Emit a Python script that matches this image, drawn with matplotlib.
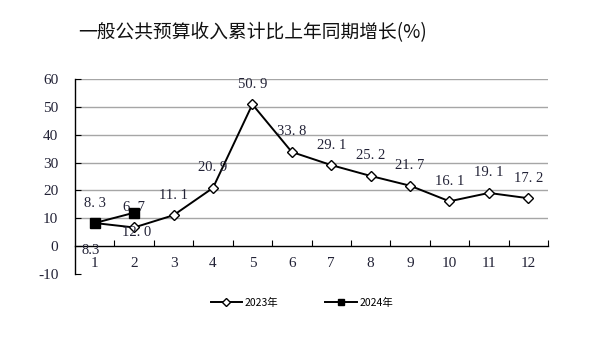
import matplotlib
matplotlib.use("Agg")
import matplotlib.pyplot as plt

months = list(range(1, 13))
month_labels = [str(m) for m in months]
y2023 = [8.3, 6.7, 11.1, 20.9, 50.9, 33.8, 29.1, 25.2, 21.7, 16.1, 19.1, 17.2]
y2024 = [8.3, 12.0]
labels2023 = ["8. 3", "6. 7", "11. 1", "20. 9", "50. 9", "33. 8", "29. 1",
              "25. 2", "21. 7", "16. 1", "19. 1", "17. 2"]
labels2024 = ["8.3", "12. 0"]
yticks = [-10, 0, 10, 20, 30, 40, 50, 60]

serif = ["Liberation Serif", "DejaVu Serif"]
cjk = ["Noto Sans CJK SC", "DejaVu Sans"]
txtc = "#222236"

fig = plt.figure(figsize=(5.98, 3.54), dpi=100)
ax = fig.add_axes([75/598, 1-274/354, (548-75)/598, (274-79)/354])

fig.text(78/598, 1-33/354, "一般公共预算收入累计比上年同期增长(%)",
         family=cjk, fontsize=13.5, ha="left", va="center", color="#111111",
         weight="medium")

for t in yticks[2:]:
    ax.axhline(t, color="#a6a6a6", lw=1.0, zorder=1)

ax.plot(months, y2023, color="black", lw=1.4, marker="D", ms=5.5,
        mfc="white", mec="black", mew=1.0, label="2023年", zorder=3)
ax.plot(months[:2], y2024, color="black", lw=1.4, marker="s", ms=7,
        mfc="black", mec="black", label="2024年", zorder=4)

for x, v, s in zip(months, y2023, labels2023):
    ax.annotate(s, (x, v), xytext=(0, 20), textcoords="offset pixels",
                ha="center", va="center", fontsize=10.5, family=serif, color=txtc)
offs2024 = [(-4, -27), (3, -20)]
for x, v, s, o in zip(months, y2024, labels2024, offs2024):
    ax.annotate(s, (x, v), xytext=o, textcoords="offset pixels",
                ha="center", va="center", fontsize=10.5, family=serif, color=txtc)

ax.set_xlim(0.5, 12.5)
ax.set_ylim(-10, 60)
ax.set_yticks(yticks)
ax.set_yticklabels([str(t) for t in yticks])
ax.set_xticks([m + 0.5 for m in months])
ax.set_xticklabels([])
ax.set_xticks(months, minor=True)
ax.set_xticklabels(month_labels, minor=True)
ax.tick_params(which="both", labelfontfamily="Liberation Serif",
               labelsize=11, labelcolor=txtc)
ax.tick_params(axis="x", which="major", direction="in", length=4, width=0.8)
ax.tick_params(axis="x", which="minor", length=0, pad=8)
ax.tick_params(axis="y", direction="in", length=4, width=0.8, pad=12)

ax.spines["bottom"].set_position(("data", 0))
ax.spines["top"].set_visible(False)
ax.spines["right"].set_visible(False)
for sp in ["left", "bottom"]:
    ax.spines[sp].set_linewidth(1.0)

fig.legend(loc="center", bbox_to_anchor=(302/598, 1-303/354), ncol=2,
           frameon=False, prop={"family": cjk, "size": 7.5},
           handlelength=3, columnspacing=4.5, handletextpad=0.3,
           markerscale=0.7)

fig.savefig("out.png", dpi=100)
